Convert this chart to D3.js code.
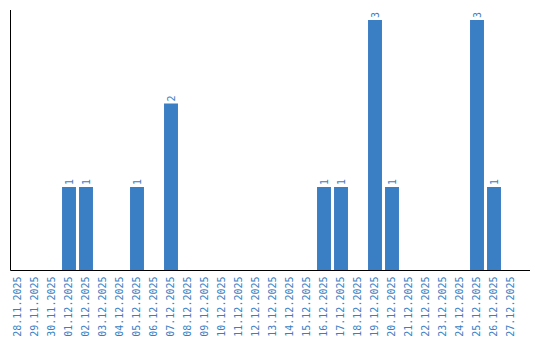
<!DOCTYPE html>
<html>
<head>
<meta charset="utf-8">
<script src="https://cdn.jsdelivr.net/npm/d3@7"></script>
<style>
  body { margin: 0; background: #fff; }
  svg { display: block; }
</style>
</head>
<body>
<div id="chart"></div>
<script>
// dates on the x axis
const dates = [
  "28.11.2025", "29.11.2025", "30.11.2025", "01.12.2025", "02.12.2025",
  "03.12.2025", "04.12.2025", "05.12.2025", "06.12.2025", "07.12.2025",
  "08.12.2025", "09.12.2025", "10.12.2025", "11.12.2025", "12.12.2025",
  "13.12.2025", "14.12.2025", "15.12.2025", "16.12.2025", "17.12.2025",
  "18.12.2025", "19.12.2025", "20.12.2025", "21.12.2025", "22.12.2025",
  "23.12.2025", "24.12.2025", "25.12.2025", "26.12.2025", "27.12.2025"
];
// count per day
const counts = [
  0, 0, 0, 1, 1,
  0, 0, 1, 0, 2,
  0, 0, 0, 0, 0,
  0, 0, 0, 1, 1,
  0, 3, 1, 0, 0,
  0, 0, 3, 1, 0
];

const width = 540, height = 340;
const m = { left: 10.5, bandStart: 9.5, bandEnd: 519.5, axisEnd: 530, top: 10, bottom: 270.5 };
const blue = "#3a7ec3";

const svg = d3.select("#chart").append("svg")
  .attr("width", width)
  .attr("height", height);

const data = dates.map((d, i) => ({ date: d, value: counts[i] }));

const x = d3.scaleBand()
  .domain(dates)
  .range([m.bandStart, m.bandEnd])
  .paddingInner(0.18)
  .paddingOuter(0.09);

const y = d3.scaleLinear()
  .domain([0, 3])
  .range([m.bottom, 20]);

// bars
svg.append("g")
  .selectAll("rect")
  .data(data.filter(d => d.value > 0))
  .join("rect")
    .attr("x", d => x(d.date))
    .attr("y", d => y(d.value))
    .attr("width", x.bandwidth())
    .attr("height", d => y(0) - y(d.value))
    .attr("fill", blue);

// value labels
svg.append("g")
  .selectAll("text")
  .data(data.filter(d => d.value > 0))
  .join("text")
    .attr("transform", d => "translate(" + (x(d.date) + x.bandwidth() / 2) + "," + (y(d.value) - 2) + ") rotate(-90)")
    .attr("dy", "0.35em")
    .attr("text-anchor", "start")
    .attr("font-family", "DejaVu Sans Mono, monospace")
    .attr("font-size", 10)
    .attr("fill", blue)
    .text(d => d.value);

// x axis
const xAxis = svg.append("g")
  .attr("transform", "translate(0," + m.bottom + ")")
  .call(d3.axisBottom(x).tickSize(0));
xAxis.select(".domain").remove();
xAxis.selectAll("text")
  .attr("transform", "rotate(-90)")
  .attr("x", -6)
  .attr("y", 0)
  .attr("dy", "0.3em")
  .attr("text-anchor", "end")
  .attr("font-family", "DejaVu Sans Mono, monospace")
  .attr("font-size", 10)
  .attr("fill", blue);

svg.append("line")
  .attr("x1", m.left).attr("x2", m.axisEnd)
  .attr("y1", m.bottom).attr("y2", m.bottom)
  .attr("stroke", "#000");

// y axis line
svg.append("line")
  .attr("x1", m.left).attr("x2", m.left)
  .attr("y1", m.top).attr("y2", m.bottom)
  .attr("stroke", "#000");
</script>
</body>
</html>
